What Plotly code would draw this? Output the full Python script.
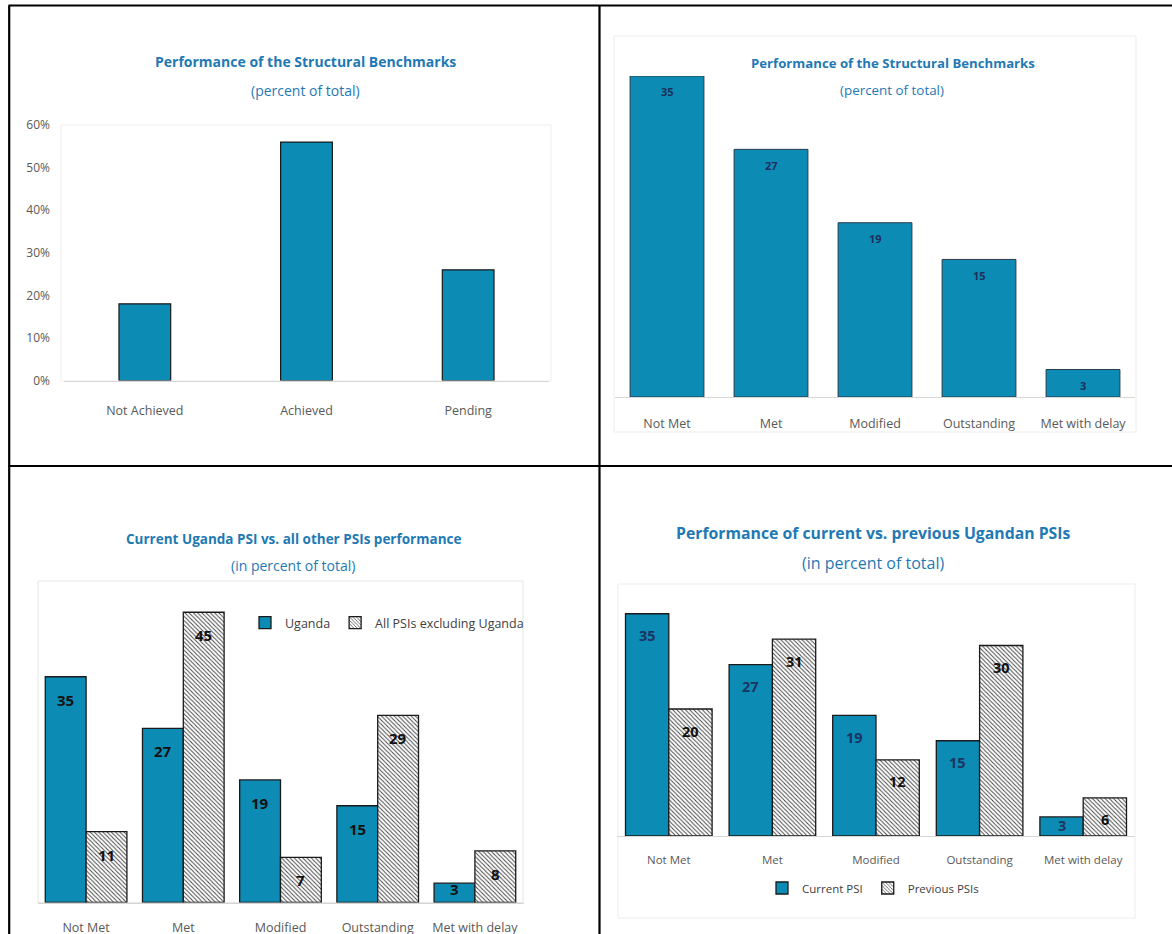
import plotly.graph_objects as go

W, H = 1172, 934

# Panel 1: structural benchmarks, percent of total
sb_categories = ["Not Achieved", "Achieved", "Pending"]
sb_share = [18, 56, 26]
sb_yticks = [0, 10, 20, 30, 40, 50, 60]
sb_yticklabels = ["0%", "10%", "20%", "30%", "40%", "50%", "60%"]

# Panel 2: structural benchmarks by status
status_categories = ["Not Met", "Met", "Modified", "Outstanding", "Met with delay"]
status_share = [35, 27, 19, 15, 3]

# Panel 3: current Uganda PSI vs. all other PSIs
uganda_share = [35, 27, 19, 15, 3]
other_psis_share = [11, 45, 7, 29, 8]

# Panel 4: current vs. previous Ugandan PSIs
current_psi_share = [35, 27, 19, 15, 3]
previous_psis_share = [20, 31, 12, 30, 6]

BAR_BLUE = "#0C8CB4"
TITLE_BLUE = "#1F79B4"
AXIS_GREY = "#595959"
EDGE = "#1A1A1A"
FONT = "Open Sans"
HATCH = dict(shape="\\", size=3, solidity=0.32, fgcolor="#444444", bgcolor="#FFFFFF")


def fx(px):
    return px / W


def fy(py):
    return 1 - py / H


# plot-area geometry of each panel, in page pixels
panels = {
    1: dict(x0=64, x1=549, ytop=125, ybase=380.5, ymax=60, n=3),
    2: dict(x0=615, x1=1135, ytop=76, ybase=397, ymax=35, n=5),
    3: dict(x0=37.5, x1=523.5, ytop=580, ybase=902.5, ymax=50, n=5),
    4: dict(x0=617, x1=1135, ytop=582, ybase=836, ymax=40, n=5),
}


def axis_ids(k):
    return ("x", "y") if k == 1 else (f"x{k}", f"y{k}")


fig = go.Figure()

# ---- bars ----
fig.add_bar(x=sb_categories, y=sb_share, xaxis="x", yaxis="y", width=0.32,
            marker=dict(color=BAR_BLUE, line=dict(color=EDGE, width=1.2)),
            showlegend=False)

fig.add_bar(x=status_categories, y=status_share, xaxis="x2", yaxis="y2", width=0.71,
            marker=dict(color=BAR_BLUE, line=dict(color="#2A3A4A", width=1)),
            showlegend=False)

fig.add_bar(x=status_categories, y=uganda_share, xaxis="x3", yaxis="y3",
            width=0.42, offset=-0.42, name="Uganda", legend="legend",
            marker=dict(color=BAR_BLUE, line=dict(color=EDGE, width=1.3)))
fig.add_bar(x=status_categories, y=other_psis_share, xaxis="x3", yaxis="y3",
            width=0.42, offset=0, name="All PSIs excluding Uganda", legend="legend",
            marker=dict(color="#FFFFFF", pattern=HATCH, line=dict(color=EDGE, width=1.3)))

fig.add_bar(x=status_categories, y=current_psi_share, xaxis="x4", yaxis="y4",
            width=0.418, offset=-0.418, name="Current PSI", legend="legend2",
            marker=dict(color=BAR_BLUE, line=dict(color=EDGE, width=1.3)))
fig.add_bar(x=status_categories, y=previous_psis_share, xaxis="x4", yaxis="y4",
            width=0.418, offset=0, name="Previous PSIs", legend="legend2",
            marker=dict(color="#FFFFFF", pattern=HATCH, line=dict(color=EDGE, width=1.3)))


# ---- value labels inside the top of each bar ----
def value_labels(values, k, center, color, size, top_gap, min_from_base):
    p = panels[k]
    px_per_unit = (p["ybase"] - p["ytop"]) / p["ymax"]
    xr, yr = axis_ids(k)
    for i, v in enumerate(values):
        bar_px = v * px_per_unit
        shift = -min(top_gap, bar_px - min_from_base)
        fig.add_annotation(x=i + center, y=v, xref=xr, yref=yr, text=f"<b>{v}</b>",
                           showarrow=False, yanchor="middle", yshift=shift,
                           font=dict(family=FONT, size=size, color=color))


value_labels(status_share, 2, 0, "#1C2F5C", 11, 16, 12)
value_labels(uganda_share, 3, -0.21, "#111111", 15, 23, 13.5)
value_labels(other_psis_share, 3, 0.21, "#111111", 15, 23, 13.5)
value_labels(current_psi_share, 4, -0.209, "#1C3463", 14.5, 22, 11)
value_labels(previous_psis_share, 4, 0.209, "#111111", 14.5, 22, 11)

# ---- titles ----
titles = [
    ("Performance of the Structural Benchmarks", 305, 61, 14, True),
    ("(percent of total)", 305, 90, 14, False),
    ("Performance of the Structural Benchmarks", 893, 63, 13.2, True),
    ("(percent of total)", 892, 90, 13.4, False),
    ("Current Uganda PSI vs. all other PSIs performance", 293, 539, 13.5, True),
    ("(in percent of total)", 293, 565, 14, False),
    ("Performance of current vs. previous Ugandan PSIs", 873, 533, 15.8, True),
    ("(in percent of total)", 873, 563, 16, False),
]
for text, x, y, size, bold in titles:
    fig.add_annotation(x=fx(x), y=fy(y), xref="paper", yref="paper",
                       text=f"<b>{text}</b>" if bold else text, showarrow=False,
                       xanchor="center", yanchor="middle",
                       font=dict(family=FONT, size=size, color=TITLE_BLUE))

# ---- axes ----
layout_axes = {}
for k, p in panels.items():
    xr, yr = axis_ids(k)
    xname = "xaxis" if k == 1 else f"xaxis{k}"
    yname = "yaxis" if k == 1 else f"yaxis{k}"
    layout_axes[xname] = dict(
        domain=[fx(p["x0"]), fx(p["x1"])], anchor=yr, type="category",
        range=[-0.5, p["n"] - 0.5], showline=True, linecolor="#D6D6D6", linewidth=1,
        ticks="", showgrid=False, zeroline=False, fixedrange=True,
        ticklabelstandoff={1: 18, 2: 15, 3: 13, 4: 13}[k],
        tickfont=dict(family=FONT, size=11.5 if k == 4 else 12.5, color=AXIS_GREY),
    )
    layout_axes[yname] = dict(
        domain=[fy(p["ybase"]), fy(p["ytop"])], anchor=xr,
        range=[0, p["ymax"]], showgrid=False, zeroline=False, fixedrange=True,
        visible=(k == 1),
    )
layout_axes["yaxis"].update(
    tickmode="array", tickvals=sb_yticks, ticktext=sb_yticklabels, ticks="",
    showline=False, ticklabelstandoff=13,
    tickfont=dict(family=FONT, size=12, color=AXIS_GREY),
)

# ---- table rules and faint chart-area frames ----
shapes = []
rules = [
    (8.5, 5.5, W, 5.5),
    (9.2, 5.5, 9.2, H),
    (599.5, 5.5, 599.5, H),
    (8.5, 466, W, 466),
]
for x0, y0, x1, y1 in rules:
    shapes.append(dict(type="line", xref="paper", yref="paper",
                       x0=fx(x0), y0=fy(y0), x1=fx(x1), y1=fy(y1),
                       line=dict(color="#000000", width=2.2)))
frames = [
    (61, 125, 551, 381, "#EFEFEF"),
    (614, 36, 1136, 432, "#EDEDED"),
    (38, 581, 523, 902.5, "#E6E6E6"),
    (618, 584, 1135, 918, "#EDEDED"),
]
for x0, y0, x1, y1, c in frames:
    shapes.append(dict(type="rect", xref="paper", yref="paper", layer="below",
                       x0=fx(x0), y0=fy(y0), x1=fx(x1), y1=fy(y1),
                       line=dict(color=c, width=1), fillcolor="rgba(0,0,0,0)"))

fig.update_layout(
    width=W, height=H, autosize=False,
    margin=dict(l=0, r=0, t=0, b=0),
    template="none",
    paper_bgcolor="#FFFFFF", plot_bgcolor="rgba(0,0,0,0)",
    font=dict(family=FONT, size=12, color=AXIS_GREY),
    barmode="overlay",
    shapes=shapes,
    legend=dict(orientation="h", x=fx(529), xanchor="right", y=fy(623), yanchor="middle",
                bgcolor="rgba(0,0,0,0)", font=dict(family=FONT, size=12.5, color="#404040"),
                itemwidth=30, tracegroupgap=0),
    legend2=dict(orientation="h", x=fx(873), xanchor="center", y=fy(888), yanchor="middle",
                 bgcolor="rgba(0,0,0,0)", font=dict(family=FONT, size=11.5, color="#404040"),
                 itemwidth=30, tracegroupgap=0),
    **layout_axes,
)

fig.write_html("out.html")
